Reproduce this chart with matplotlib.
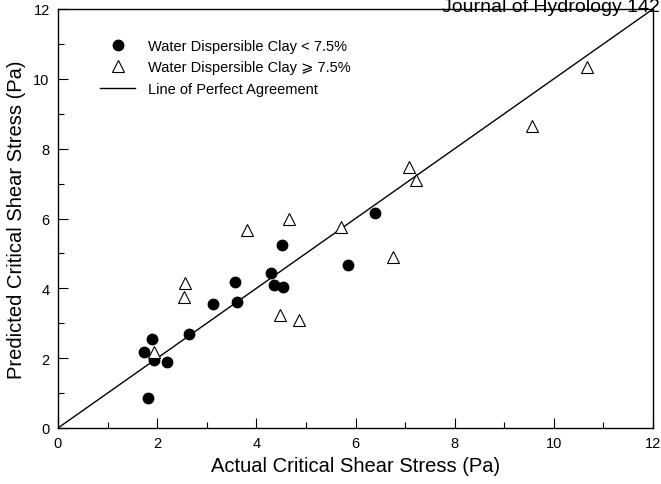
import matplotlib
matplotlib.use('Agg')
import matplotlib.pyplot as plt
from matplotlib.ticker import MultipleLocator

plt.rcParams['font.family'] = ['Liberation Sans', 'DejaVu Sans']

# water dispersible clay < 7.5 %
lowActual = [1.90, 1.73, 1.94, 2.20, 1.82, 2.65, 3.13, 3.57, 3.61, 4.51, 4.30, 4.35, 4.53, 5.85, 6.39]
lowPredicted = [2.55, 2.17, 1.95, 1.90, 0.87, 2.69, 3.56, 4.19, 3.62, 5.24, 4.43, 4.10, 4.03, 4.67, 6.16]

# water dispersible clay >= 7.5 %
highActual = [1.94, 2.56, 2.55, 3.82, 4.66, 4.47, 4.86, 5.71, 7.08, 7.23, 6.76, 9.55, 10.66]
highPredicted = [2.17, 4.16, 3.74, 5.68, 5.99, 3.24, 3.09, 5.75, 7.47, 7.11, 4.89, 8.64, 10.33]

axisLimits = [0, 12]

fig = plt.figure(figsize=(6.61, 4.85), dpi=100)
ax = fig.add_axes([58 / 661, 1 - 429 / 485, 595 / 661, 419 / 485])

ax.plot(axisLimits, axisLimits, color='black', linewidth=1.0,
        label='Line of Perfect Agreement', zorder=2)
ax.plot(lowActual, lowPredicted, linestyle='none', marker='o', markersize=7.5,
        color='black', label='Water Dispersible Clay < 7.5%', zorder=3)
ax.plot(highActual, highPredicted, linestyle='none', marker='^', markersize=8,
        markerfacecolor='white', markeredgecolor='black', markeredgewidth=0.8,
        label='Water Dispersible Clay \u2a7e 7.5%', zorder=3)

ax.set_xlim(axisLimits)
ax.set_ylim(axisLimits)
ax.xaxis.set_major_locator(MultipleLocator(2))
ax.xaxis.set_minor_locator(MultipleLocator(1))
ax.yaxis.set_major_locator(MultipleLocator(2))
ax.yaxis.set_minor_locator(MultipleLocator(1))
ax.tick_params(which='both', direction='in', top=False, right=False,
               labelsize=10.5, width=0.8)
ax.tick_params(which='major', length=7, pad=6)
ax.tick_params(which='minor', length=4)
for s in ax.spines.values():
    s.set_linewidth(1.0)

ax.set_xlabel('Actual Critical Shear Stress (Pa)', fontsize=14.5, labelpad=4)
ax.set_ylabel('Predicted Critical Shear Stress (Pa)', fontsize=14.5, labelpad=5)

handles, labels = ax.get_legend_handles_labels()
order = [1, 2, 0]
ax.legend([handles[i] for i in order], [labels[i] for i in order],
          loc='upper left', bbox_to_anchor=(0.0706, 0.928), frameon=False,
          fontsize=10.5, handlelength=2.4, handletextpad=0.9, labelspacing=0.5,
          borderpad=0, borderaxespad=0)

fig.text(0.998, 1 - 12 / 485, 'Journal of Hydrology 142', ha='right',
         va='baseline', fontsize=14)

plt.savefig('out.png', dpi=100)
